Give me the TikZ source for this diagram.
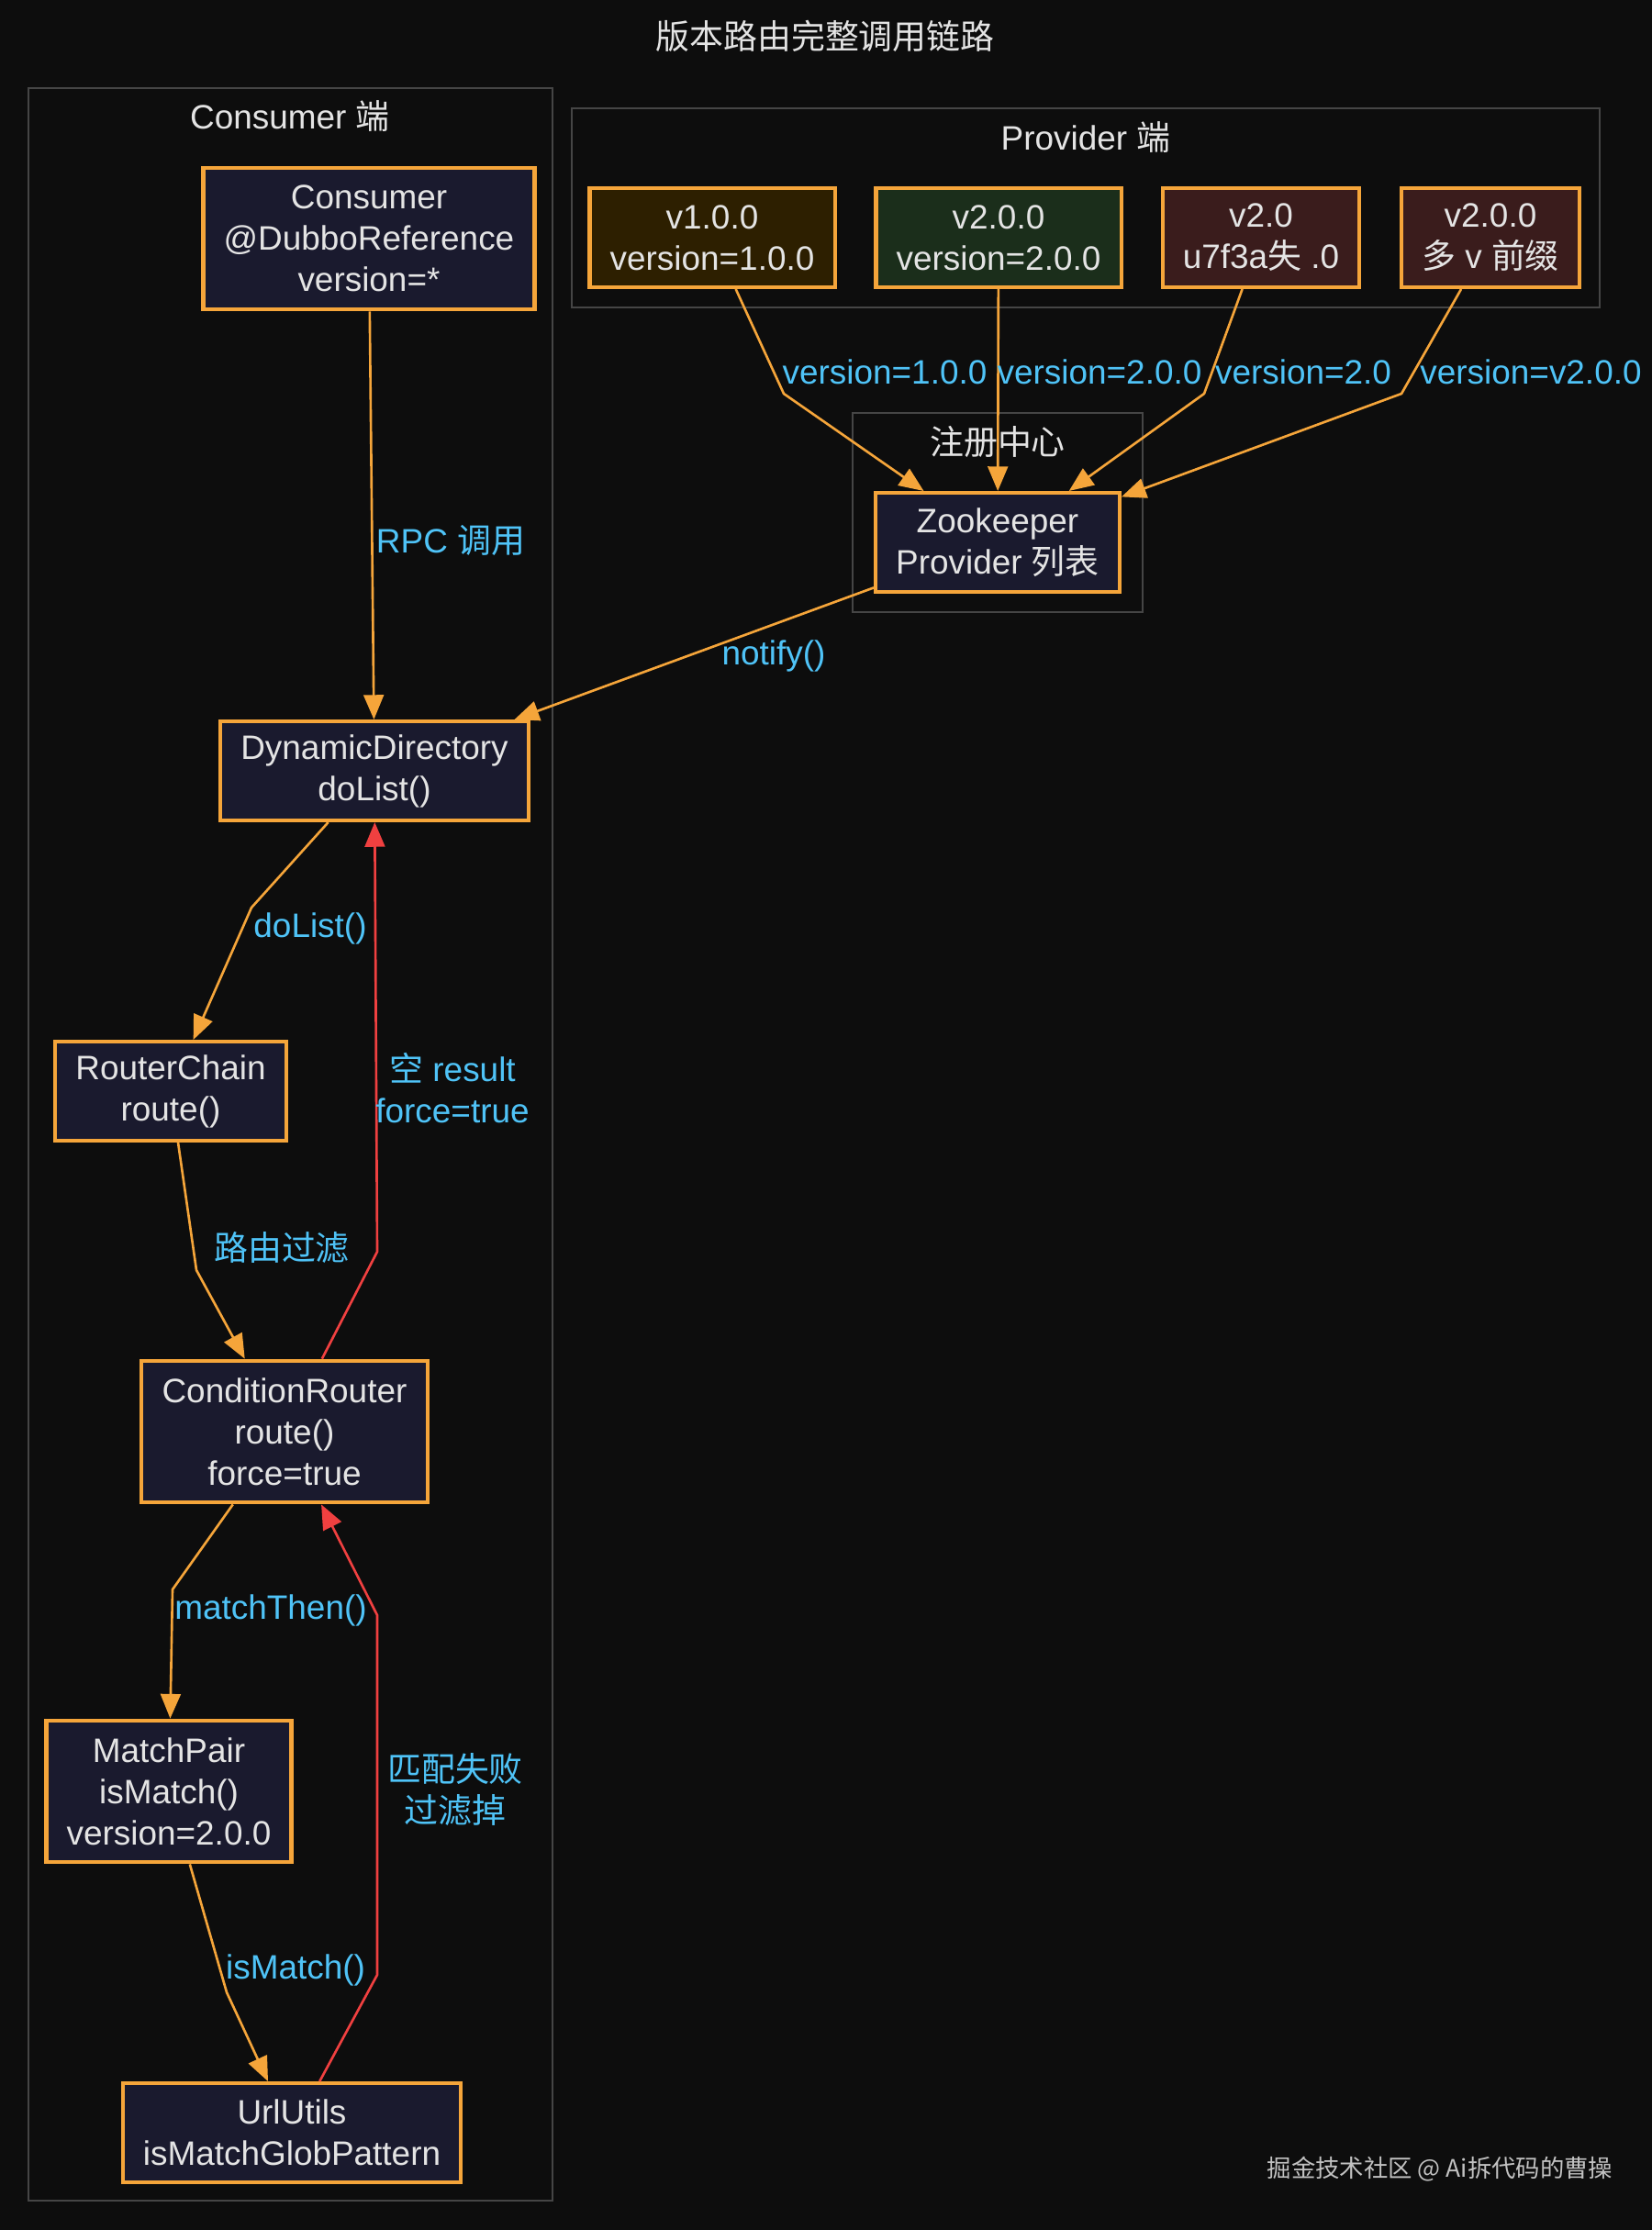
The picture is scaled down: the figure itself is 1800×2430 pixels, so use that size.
\documentclass[tikz,border=0pt]{standalone}
\usepackage{fontspec}
\setmainfont{Liberation Sans}
\newfontfamily\cjk{Noto Sans CJK SC}
\usepackage{xcolor}
\usepackage{tikz}
\usetikzlibrary{arrows.meta,positioning}

\definecolor{bgc}{HTML}{0D0D0D}
\definecolor{boxfill}{HTML}{1A1A2E}
\definecolor{boxline}{HTML}{F5A53A}
\definecolor{txt}{HTML}{E4E4E4}
\definecolor{lblc}{HTML}{4FC3F7}
\definecolor{failc}{HTML}{F04040}
\definecolor{clus}{HTML}{454545}
\definecolor{pone}{HTML}{2D1F00}
\definecolor{ptwo}{HTML}{1B2E1B}
\definecolor{pbad}{HTML}{3A1C1C}

\begin{document}
\begin{tikzpicture}[x=0.01cm,y=-0.01cm,
  font=\fontsize{10.5}{12.8}\selectfont,
  box/.style={draw=boxline,line width=1.15pt,fill=boxfill,text=txt,align=center,
    inner xsep=6.3pt,inner ysep=2pt,minimum height=30.7pt},
  tall/.style={box,minimum height=44pt},
  lbl/.style={text=lblc,align=center,inner sep=1pt},
  cluster/.style={draw=clus,line width=0.6pt},
  flow/.style={draw=boxline,line width=0.75pt,-{Triangle[length=7.6pt,width=6.2pt]}},
  fail/.style={flow,draw=failc,-{Triangle[length=7.6pt,width=6.2pt,fill=failc]}}]
  % 背景与边界
  \fill[bgc] (0,0) rectangle (1800,2430);
  \useasboundingbox (0,0) rectangle (1800,2430);
  \node[text=txt] (title) at (899,39) {\cjk 版本路由完整调用链路};
  % 三个分组框
  \draw[cluster] (31,96) rectangle (602,2398);
  \node[text=txt] (consumerside) at (316,127) {Consumer {\cjk 端}};
  \draw[cluster] (623,118) rectangle (1743,335);
  \node[text=txt] (providerside) at (1183,150) {Provider {\cjk 端}};
  \draw[cluster] (929,450) rectangle (1245,667);
  \node[text=txt] (registry) at (1087,481) {\cjk 注册中心};
  % Provider 端的四个版本
  \node[box,fill=pone] (v1) at (776,259) {v1.0.0\\version=1.0.0};
  \node[box,fill=ptwo] (v2) at (1088,259) {v2.0.0\\version=2.0.0};
  \node[box,fill=pbad] (vshort) at (1374,259) {v2.0\\u7f3a{\cjk 失} .0};
  \node[box,fill=pbad] (vprefix) at (1624,259) {v2.0.0\\{\cjk 多} v {\cjk 前缀}};
  \node[box] (zk) at (1087,591) {Zookeeper\\Provider {\cjk 列表}};
  % Consumer 端的调用链
  \node[tall] (consumer) at (402,260) {Consumer\\@DubboReference\\version=*};
  \node[box] (dyndir) at (408,840) {DynamicDirectory\\doList()};
  \node[box] (chain) at (186,1189) {RouterChain\\route()};
  \node[tall] (condrouter) at (310,1560) {ConditionRouter\\route()\\force=true};
  \node[tall] (matchpair) at (184,1952) {MatchPair\\isMatch()\\version=2.0.0};
  \node[box] (urlutils) at (318,2324) {UrlUtils\\isMatchGlobPattern};
  % 注册
  \draw[flow] (v1) -- (854,429) -- (zk);
  \draw[flow] (v2) -- (zk);
  \draw[flow] (vshort) -- (1312,429) -- (zk);
  \draw[flow] (vprefix) -- (1527,429) -- (zk);
  \node[lbl] (lv1) at (964,405) {version=1.0.0};
  \node[lbl] (lv2) at (1198,405) {version=2.0.0};
  \node[lbl] (lvshort) at (1420,405) {version=2.0};
  \node[lbl] (lvprefix) at (1668,405) {version=v2.0.0};
  % 调用与路由
  \draw[flow] (consumer) -- (dyndir);
  \node[lbl] (lrpc) at (491,589) {RPC {\cjk 调用}};
  \draw[flow] (zk) -- (dyndir);
  \node[lbl] (lnotify) at (843,715) {notify()};
  \draw[flow] (dyndir) -- (274,989) -- (chain);
  \node[lbl] (ldolist) at (338,1012) {doList()};
  \draw[flow] (chain) -- (214,1384) -- (condrouter);
  \node[lbl] (lfilter) at (307,1360) {\cjk 路由过滤};
  \draw[fail] (condrouter) -- (411,1364) -- (dyndir);
  \node[lbl] (lempty) at (493,1186) {{\cjk 空} result\\force=true};
  \draw[flow] (condrouter) -- (188,1732) -- (matchpair);
  \node[lbl] (lthen) at (295,1755) {matchThen()};
  \draw[flow] (matchpair) -- (247,2171) -- (urlutils);
  \node[lbl] (lismatch) at (322,2147) {isMatch()};
  \draw[fail] (urlutils) -- (411,2152) -- (411,1760) -- (condrouter);
  \node[lbl] (lmiss) at (496,1950) {{\cjk 匹配失败}\\{\cjk 过滤掉}};
  % 水印
  \node[text=txt!85!black,font=\fontsize{7.5}{9}\selectfont] (mark) at (1569,2364) {\cjk 掘金技术社区 @ Ai拆代码的曹操};
\end{tikzpicture}
\end{document}
